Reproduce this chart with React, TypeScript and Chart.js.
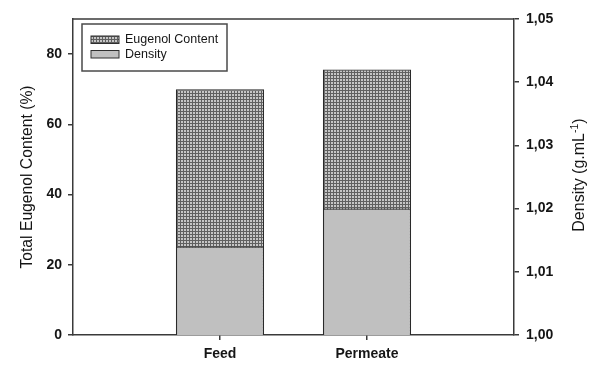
import { useEffect, useRef } from "react";
import { Chart, registerables } from "chart.js";

Chart.register(...registerables);

// Categories (blank slots at both ends keep the two samples in the middle thirds)
const categories = ["", "Feed", "Permeate", ""];
// Total eugenol content, % (left axis)
const eugenolContent = [null, 70.0, 75.6, null];
// Density, g/mL (right axis)
const densityValues = [null, 1.014, 1.02, null];

const contentTicks = [0, 20, 40, 60, 80];
const densityTicks = [1.0, 1.01, 1.02, 1.03, 1.04, 1.05];

const seriesNames = ["Eugenol Content", "Density"];
const leftTitle = "Total Eugenol Content (%)";
const rightTitleMain = "Density (g.mL";
const rightTitleSup = "-1";
const rightTitleEnd = ")";

const FONT = "'Liberation Sans', Arial, Helvetica, sans-serif";
const INK = "#151515";
const FRAME = "#3a3a3a";
const GREY = "#c0c0c0";

function makeHatch(): CanvasPattern | string {
  const c = document.createElement("canvas");
  c.width = 3;
  c.height = 3;
  const g = c.getContext("2d");
  if (!g) return "#8a8a8a";
  g.fillStyle = "#c6c6c6";
  g.fillRect(0, 0, 3, 3);
  g.fillStyle = "#606060";
  g.fillRect(0, 0, 3, 1);
  g.fillRect(0, 0, 1, 3);
  return g.createPattern(c, "repeat") || "#8a8a8a";
}

function zeroPadding(s: any) {
  s.paddingTop = 0;
  s.paddingBottom = 0;
  s.paddingLeft = 0;
  s.paddingRight = 0;
}

export default function App() {
  const canvasRef = useRef<HTMLCanvasElement | null>(null);

  useEffect(() => {
    document.body.style.margin = "0";
    const canvas = canvasRef.current;
    if (!canvas) return;
    const hatch = makeHatch();

    // Frame top, legend box and right-hand axis title
    const decorations = {
      id: "decorations",
      afterDraw(chart: any) {
        const { ctx, chartArea } = chart;
        const { left, right, top, bottom } = chartArea;
        ctx.save();

        // top edge of the frame
        ctx.strokeStyle = FRAME;
        ctx.lineWidth = 1.5;
        ctx.beginPath();
        ctx.moveTo(left, top);
        ctx.lineTo(right, top);
        ctx.stroke();

        // legend
        const bx = left + 9;
        const by = top + 5;
        const bw = 145;
        const bh = 47;
        ctx.lineWidth = 1.5;
        ctx.strokeStyle = "#4a4a4a";
        ctx.fillStyle = "#ffffff";
        ctx.fillRect(bx, by, bw, bh);
        ctx.strokeRect(bx, by, bw, bh);

        const fills = [hatch, GREY];
        const rowsY = [by + 12, by + 26.5];
        ctx.font = `12.5px ${FONT}`;
        ctx.textBaseline = "middle";
        ctx.textAlign = "left";
        for (let i = 0; i < seriesNames.length; i++) {
          const sx = bx + 9;
          const sy = rowsY[i];
          ctx.fillStyle = fills[i] as any;
          ctx.fillRect(sx, sy, 28, 7.5);
          ctx.lineWidth = 1;
          ctx.strokeStyle = "#2e2e2e";
          ctx.strokeRect(sx, sy, 28, 7.5);
          ctx.fillStyle = INK;
          ctx.fillText(seriesNames[i], sx + 34, sy + 4);
        }

        // right axis title, reading bottom to top, with superscript
        const mainFont = `16px ${FONT}`;
        const supFont = `10.5px ${FONT}`;
        ctx.font = mainFont;
        const w1 = ctx.measureText(rightTitleMain).width;
        const w3 = ctx.measureText(rightTitleEnd).width;
        ctx.font = supFont;
        const w2 = ctx.measureText(rightTitleSup).width;
        const total = w1 + w2 + w3;
        ctx.translate(584, (top + bottom) / 2 - 2);
        ctx.rotate(-Math.PI / 2);
        ctx.textBaseline = "alphabetic";
        ctx.fillStyle = INK;
        ctx.font = mainFont;
        ctx.fillText(rightTitleMain, -total / 2, 0);
        ctx.font = supFont;
        ctx.fillText(rightTitleSup, -total / 2 + w1, -6.5);
        ctx.font = mainFont;
        ctx.fillText(rightTitleEnd, -total / 2 + w1 + w2, 0);
        ctx.restore();
      },
    };

    const tickFont = { family: FONT, size: 14, weight: "bold" as const };

    const chart = new Chart(canvas, {
      type: "bar",
      data: {
        labels: categories,
        datasets: [
          {
            label: seriesNames[0],
            data: eugenolContent,
            yAxisID: "y",
            backgroundColor: hatch as any,
            borderColor: "#2a2a2a",
            borderWidth: 1.2,
            borderSkipped: "bottom",
            grouped: false,
            order: 2,
            categoryPercentage: 0.6,
            barPercentage: 1,
          },
          {
            label: seriesNames[1],
            data: densityValues,
            yAxisID: "y1",
            backgroundColor: GREY,
            borderColor: "#2a2a2a",
            borderWidth: 1.2,
            borderSkipped: "bottom",
            grouped: false,
            order: 1,
            categoryPercentage: 0.6,
            barPercentage: 1,
          },
        ],
      },
      options: {
        responsive: false,
        animation: false,
        layout: { padding: { top: 19, left: 0, right: 0, bottom: 0 } },
        plugins: {
          legend: { display: false },
          tooltip: { enabled: false },
        },
        scales: {
          x: {
            type: "category",
            offset: false,
            grid: {
              offset: false,
              drawOnChartArea: false,
              tickLength: 5,
              lineWidth: 1.5,
              tickColor: (c: any) =>
                categories[c.index] ? FRAME : "rgba(0,0,0,0)",
            },
            border: { color: FRAME, width: 1.5 },
            ticks: {
              font: tickFont,
              color: INK,
              padding: 6,
              autoSkip: false,
              maxRotation: 0,
            },
            afterFit: (s: any) => {
              s.height = 30;
              zeroPadding(s);
            },
          },
          y: {
            position: "left",
            min: 0,
            max: 90,
            afterBuildTicks: (s: any) => {
              s.ticks = contentTicks.map((v) => ({ value: v }));
            },
            grid: {
              drawOnChartArea: false,
              tickLength: 5,
              lineWidth: 1.5,
              tickColor: FRAME,
            },
            border: { color: FRAME, width: 1.5 },
            ticks: { font: tickFont, color: INK, padding: 6 },
            title: {
              display: true,
              text: leftTitle,
              color: INK,
              font: { family: FONT, size: 15.7 },
              padding: { top: 18, bottom: 0 },
            },
            afterFit: (s: any) => {
              s.width = 73;
              zeroPadding(s);
            },
          },
          y1: {
            position: "right",
            min: 1.0,
            max: 1.05,
            afterBuildTicks: (s: any) => {
              s.ticks = densityTicks.map((v) => ({ value: v }));
            },
            grid: {
              drawOnChartArea: false,
              tickLength: 5,
              lineWidth: 1.5,
              tickColor: FRAME,
            },
            border: { color: FRAME, width: 1.5 },
            ticks: {
              font: tickFont,
              color: INK,
              padding: 7,
              callback: (v: any) => Number(v).toFixed(2).replace(".", ","),
            },
            afterFit: (s: any) => {
              s.width = 75;
              zeroPadding(s);
            },
          },
        },
      },
      plugins: [decorations],
    });

    return () => chart.destroy();
  }, []);

  return (
    <div style={{ width: 589, height: 365 }}>
      <canvas
        ref={canvasRef}
        width={589}
        height={365}
        style={{ display: "block", width: 589, height: 365 }}
      />
    </div>
  );
}
